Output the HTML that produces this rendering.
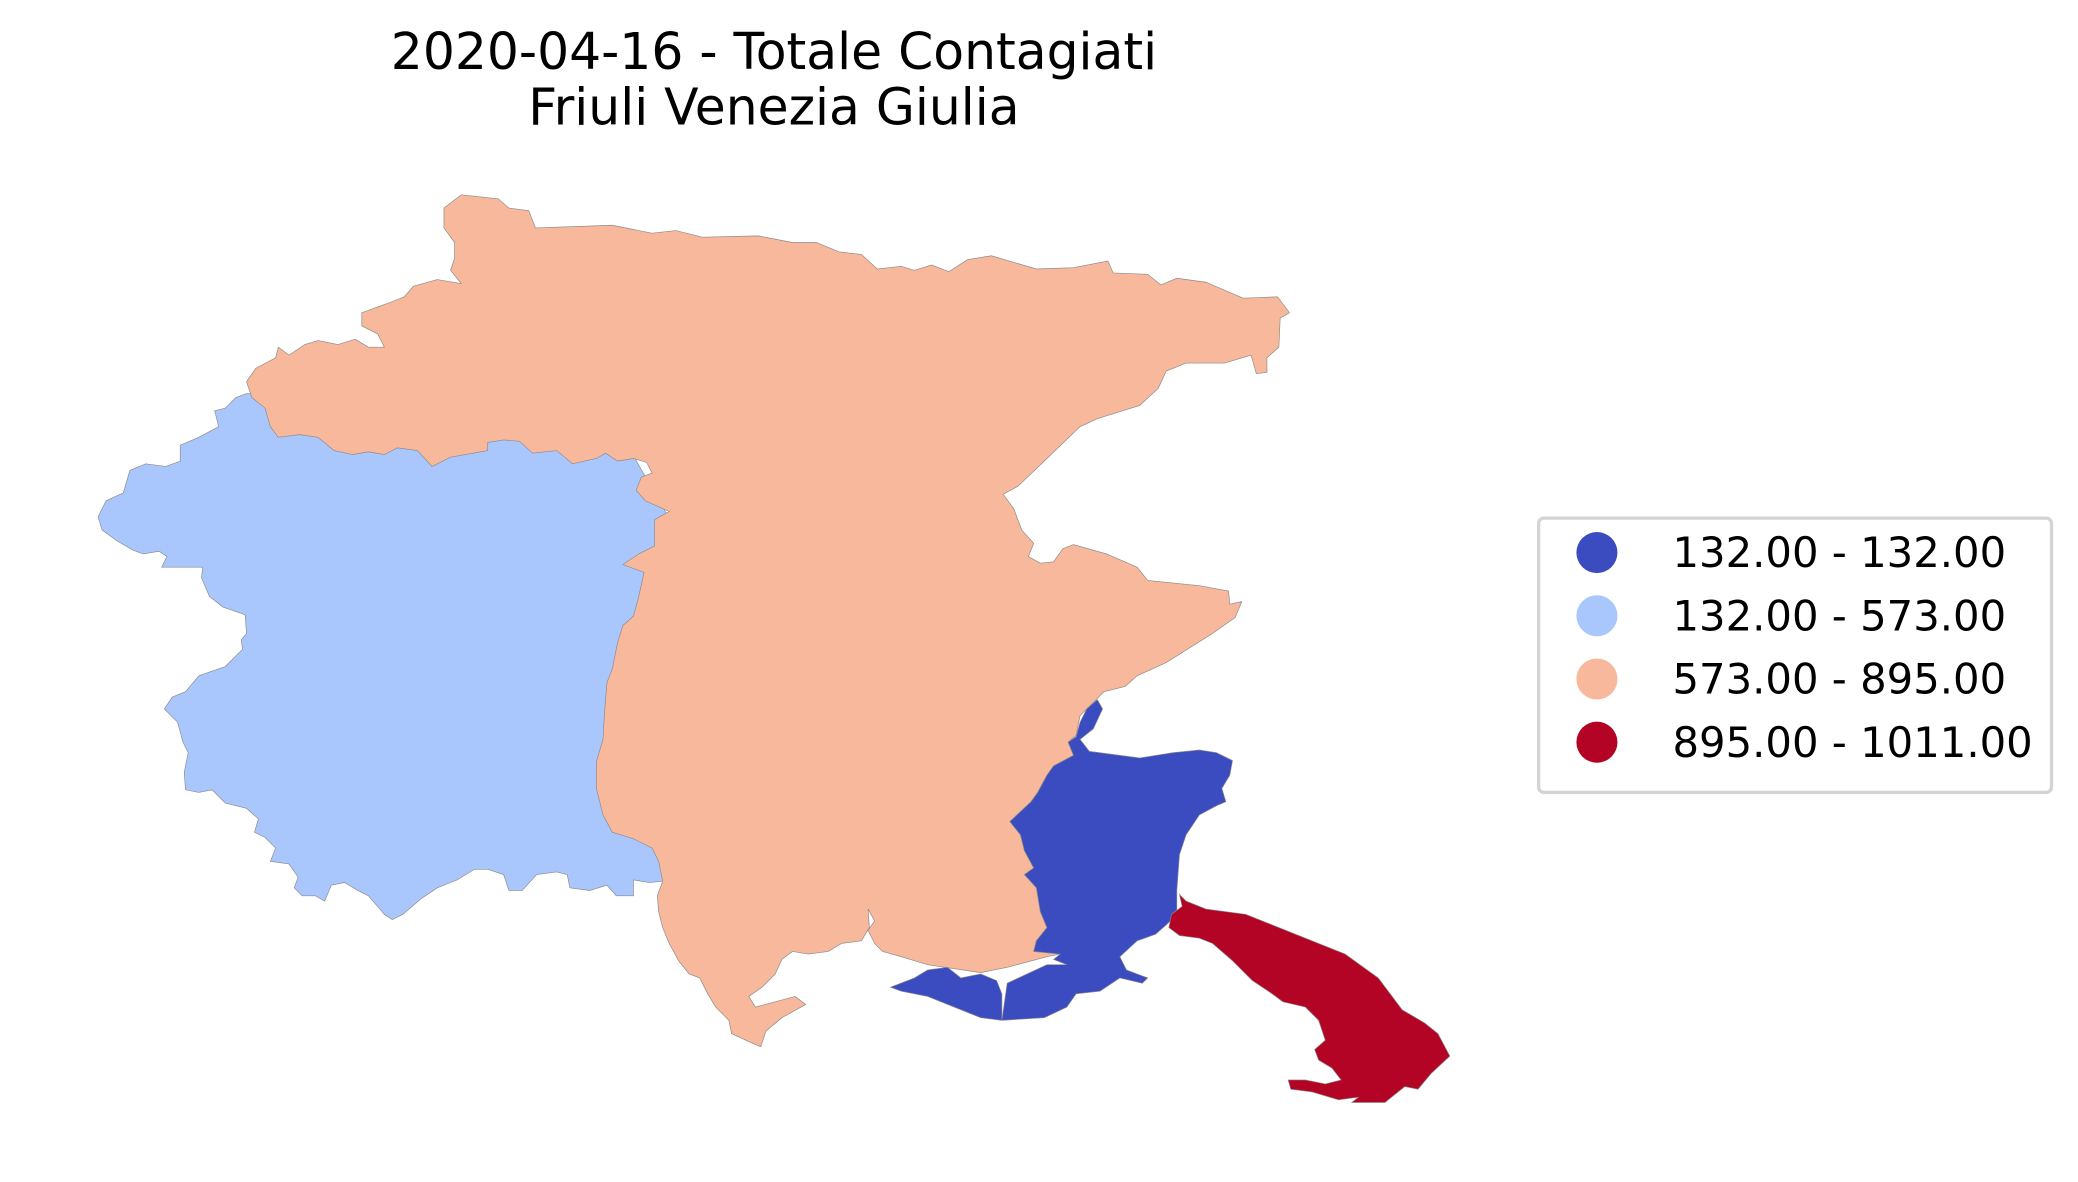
<!DOCTYPE html>
<html><head><meta charset="utf-8"><style>
html,body{margin:0;padding:0;background:#fff;}
svg{display:block;}
text{font-family:"DejaVu Sans","Liberation Sans",sans-serif;fill:#000;}
</style></head><body>
<svg id="chart" width="2078" height="1182" viewBox="0 0 1568 892" preserveAspectRatio="none" xmlns="http://www.w3.org/2000/svg">
<text x="584" y="52" font-size="38" text-anchor="middle">2020-04-16 - Totale Contagiati</text>
<text x="584" y="94" font-size="38" text-anchor="middle">Friuli Venezia Giulia</text>
<g id="map"></g>
<g id="legend"></g>
</svg>
<script>
const provinces = ["Pordenone", "Udine", "Gorizia", "Trieste"];
const values = [500, 800, 132, 1011];
const breaks = [132, 573, 895, 1011];
const legendLabels = ["132.00 - 132.00", "132.00 - 573.00", "573.00 - 895.00", "895.00 - 1011.00"];
const classColors = ["#3b4cc0", "#aac7fd", "#f7b89c", "#b40426"];

const shapes = {
 Pordenone: [[ "186,297 178,300 170,308 162,310 165,322 150,330 136,336 136,348 125,352 110,350 98,355 93,372 80,378 74,390 77,400 88,408 100,415 108,418 120,416 126,420 122,428 153,428 152,436 158,450 168,458 185,464 186,478 182,483 183,490 170,503 150,510 140,522 130,526 124,535 134,545 138,560 142,568 139,583 140,596 150,598 160,596 170,606 186,610 195,618 192,628 200,632 208,640 204,650 218,652 225,662 222,670 228,676 238,676 245,680 250,668 260,666 270,672 278,676 290,690 296,694 304,690 318,678 330,670 345,664 358,656 368,656 380,660 384,672 394,672 405,660 420,658 428,660 430,670 445,672 458,668 465,676 478,676 478,664 490,666 500,665 520,600 510,400 470,330 250,300" ]],
 Udine: [[ "335,157 348,147 376,150 384,157 399,159 404,172 462,170 492,176 510,174 530,179 572,178 598,183 616,183 633,190 650,192 662,203 680,201 690,204 703,200 716,205 730,196 748,193 782,203 810,202 836,197 840,206 866,207 876,215 888,210 910,213 938,225 964,224 973,236 966,240 965,262 956,270 956,281 948,282 944,268 924,274 895,274 880,280 874,293 860,306 828,316 815,322 790,346 768,367 757,373 765,384 771,400 780,410 776,420 785,425 795,424 802,414 810,411 835,418 858,428 866,438 905,442 927,446 928,456 937,454 932,466 915,478 880,500 858,510 849,518 833,522 825,530 815,540 812,555 806,560 810,570 795,578 790,585 783,598 778,605 762,620 770,630 773,642 780,655 773,660 782,670 785,688 790,700 782,710 780,718 800,720 790,722 760,730 740,734 700,728 680,722 666,718 660,712 655,702 660,695 655,686 656,700 650,710 635,712 625,718 610,720 598,718 590,724 585,735 575,745 565,752 570,760 600,752 608,758 590,768 578,778 574,790 565,786 552,780 550,770 540,760 534,750 528,738 520,735 512,725 505,712 500,700 497,688 496,676 500,665 497,650 492,640 478,633 462,628 455,615 450,595 450,575 455,558 456,540 458,515 462,505 466,485 470,472 478,465 482,450 486,432 470,426 482,418 494,412 494,392 505,386 487,378 480,370 484,360 492,357 488,349 478,346 466,348 457,342 450,346 432,350 420,340 402,342 392,333 380,332 368,334 368,340 340,345 326,352 315,340 300,338 290,343 278,341 266,343 252,340 240,330 226,328 210,330 204,322 200,308 190,300 186,288 193,278 208,270 210,262 218,268 230,260 240,257 255,260 268,256 278,262 290,262 285,252 273,246 273,236 295,228 305,224 312,216 330,211 348,214 340,204 343,195 343,183 335,172" ]],
 Gorizia: [[ "832,535 828,528 820,535 815,545 812,556 806,560 810,570 795,578 790,585 783,598 778,605 762,620 770,630 773,642 780,655 773,660 782,670 785,688 790,700 782,710 780,718 800,720 795,724 805,728 790,728 775,735 760,742 756,770 788,768 805,760 812,750 830,748 845,738 862,742 866,738 850,732 845,722 858,710 872,705 880,698 888,690 888,672 890,645 895,630 905,615 918,608 925,605 922,595 928,585 930,574 918,568 905,566 885,568 860,572 845,570 822,567 815,558 825,550",
   "672,745 690,738 700,732 715,730 725,738 740,735 752,740 756,750 756,770 740,768 720,760 700,752 680,748" ]],
 Trieste: [[ "890,675 892,684 884,690 882,700 890,706 905,708 915,712 930,725 945,740 960,750 968,756 985,760 995,770 1000,785 992,792 995,800 1005,806 1012,815 1000,818 985,815 972,815 974,822 990,824 1010,830 1025,828 1020,832 1045,832 1060,820 1070,822 1080,810 1094,797 1085,780 1075,772 1058,762 1040,738 1015,720 985,708 940,690 910,686 895,680" ]]
};

function classIndex(v){ for(let i=0;i<breaks.length;i++){ if(v<=breaks[i]) return i; } return breaks.length-1; }

const NS="http://www.w3.org/2000/svg";
const map=document.getElementById('map');
const order=["Pordenone","Udine","Gorizia","Trieste"];
order.forEach(name=>{
  const idx=provinces.indexOf(name);
  const col=classColors[classIndex(values[idx])];
  shapes[name][0].forEach((pts,k)=>{
    const p=document.createElementNS(NS,'polygon');
    p.setAttribute('points',pts);
    p.setAttribute('fill',col);
    p.setAttribute('stroke','#8a8a8a');
    p.setAttribute('stroke-width','0.5');
    
    
    map.appendChild(p);
  });
});

const lg=document.getElementById('legend');
const box=document.createElementNS(NS,'rect');
box.setAttribute('x','1161');box.setAttribute('y','391');box.setAttribute('width','387');box.setAttribute('height','207');
box.setAttribute('rx','4');box.setAttribute('fill','#fff');box.setAttribute('stroke','#d4d4d4');box.setAttribute('stroke-width','2.5');


lg.appendChild(box);
legendLabels.forEach((lab,i)=>{
  const y=417+i*47.7;
  const g=document.createElementNS(NS,'g');
  
  
  const c=document.createElementNS(NS,'circle');
  c.setAttribute('cx','1205');c.setAttribute('cy',y);c.setAttribute('r','15.5');c.setAttribute('fill',classColors[i]);
  
  
  const t=document.createElementNS(NS,'text');
  t.setAttribute('x','1262');t.setAttribute('y',y+11);t.setAttribute('font-size','31.5');
  t.textContent=lab;
  
  
  g.appendChild(c);g.appendChild(t);lg.appendChild(g);
});
</script>
</body></html>
